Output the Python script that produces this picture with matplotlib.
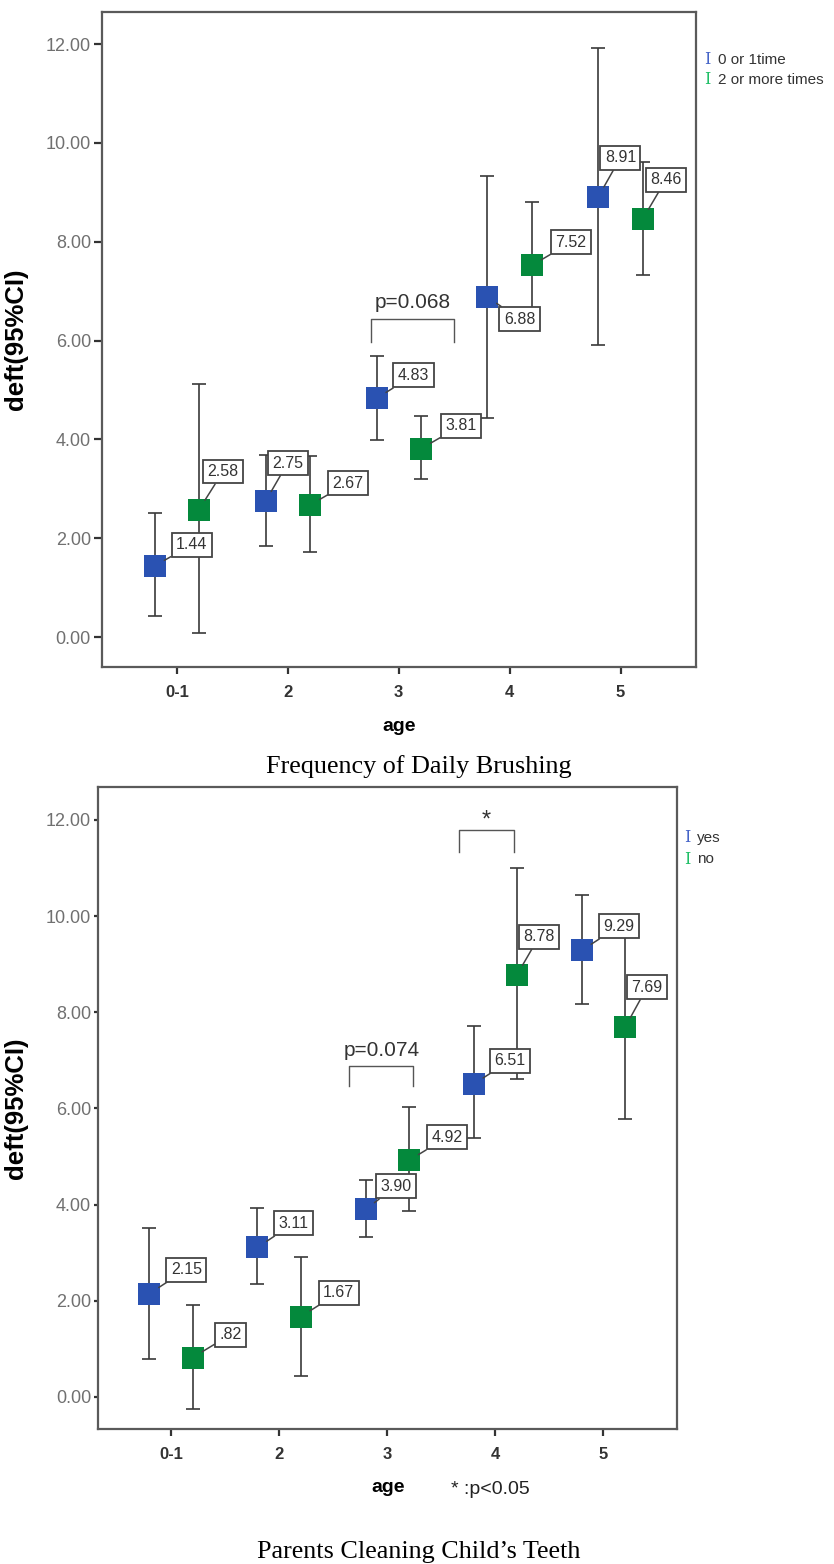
import numpy as np
import matplotlib.pyplot as plt

ages = ['0-1', '2', '3', '4', '5']

# Frequency of Daily Brushing: 0 or 1 time / 2 or more times
brush_a_mean = [1.44, 2.75, 4.83, 6.88, 8.91]
brush_a_lo = [0.42, 1.85, 3.99, 4.43, 5.91]
brush_a_hi = [2.51, 3.68, 5.69, 9.33, 11.91]
brush_b_mean = [2.58, 2.67, 3.81, 7.52, 8.46]
brush_b_lo = [0.09, 1.72, 3.19, 6.25, 7.32]
brush_b_hi = [5.12, 3.66, 4.47, 8.80, 9.61]

# Parents Cleaning Child's Teeth: yes / no
clean_a_mean = [2.15, 3.11, 3.90, 6.51, 9.29]
clean_a_lo = [0.80, 2.34, 3.33, 5.38, 8.18]
clean_a_hi = [3.52, 3.92, 4.52, 7.71, 10.44]
clean_b_mean = [0.82, 1.67, 4.92, 8.78, 7.69]
clean_b_lo = [-0.25, 0.44, 3.86, 6.62, 5.78]
clean_b_hi = [1.92, 2.92, 6.04, 11.00, 9.60]

# label box offsets in pixels (layout only)
brush_a_off = [(37, 21), (22, 38), (37, 23), (32, -22), (22, 39)]
brush_b_off = [(24, 38), (38, 22), (40, 23), (39, 23), (23, 39)]
clean_a_off = [(37, 24), (36, 24), (30, 23), (36, 23), (37, 24)]
clean_b_off = [(38, 23), (38, 24), (38, 23), (22, 38), (22, 40)]

BLUE = '#2a52b2'
GREEN = '#04893c'
BAR = '#3a3a3a'
FRAME = '#5a5a5a'
SANS = ['Liberation Sans', 'DejaVu Sans']
NARROW = ['Liberation Sans Narrow', 'Liberation Sans', 'DejaVu Sans']
SERIF = ['Liberation Serif', 'DejaVu Serif']


def fmt(v):
    s = f'{v:.2f}'
    return s[1:] if s.startswith('0') else s


def draw_series(ax, xs, mean, lo, hi, color, offsets):
    mean = np.array(mean)
    err = [mean - np.array(lo), np.array(hi) - mean]
    ax.errorbar(xs, mean, yerr=err, fmt='none', ecolor=BAR, elinewidth=1.2,
                capsize=4.8, capthick=1.2, zorder=2)
    ax.plot(xs, mean, 's', color=color, markersize=15.5, markeredgewidth=0, zorder=3)
    for x, m, (dx, dy) in zip(xs, mean, offsets):
        ax.annotate(fmt(m), xy=(x, m), xytext=(dx, dy), textcoords='offset pixels',
                    ha='center', va='center', fontsize=11.5, color='#333333', family=SANS,
                    bbox=dict(boxstyle='square,pad=0.28', fc='white', ec='#444444', lw=1.3),
                    arrowprops=dict(arrowstyle='-', color='#444444', lw=1.1,
                                    shrinkA=0, shrinkB=8),
                    zorder=6)


def bracket(ax, x0, x1, ytop, ylow, text, ty, fs):
    ax.plot([x0, x0, x1, x1], [ylow, ytop, ytop, ylow], color='#555555', lw=1.0, zorder=1)
    ax.text((x0 + x1) / 2, ty, text, ha='center', va='center', fontsize=fs,
            color='#333333', family=SANS)


def style_axes(ax, ylim, ytick_len):
    ax.set_xlim(-0.675, 4.68)
    ax.set_ylim(*ylim)
    ax.set_xticks(range(len(ages)))
    ax.set_xticklabels(ages, fontweight='bold', family=NARROW, fontsize=12, color='#333333')
    ax.set_yticks(np.arange(0, 12.1, 2))
    ax.set_yticklabels([f'{v:.2f}' for v in np.arange(0, 12.1, 2)], family=SANS,
                       fontsize=13, color='#707070')
    ax.tick_params(axis='y', length=ytick_len, width=1.6, color='#333333', pad=2)
    ax.tick_params(axis='x', length=5, width=1.6, color='#333333', pad=8)
    for sp in ax.spines.values():
        sp.set_linewidth(1.6)
        sp.set_color(FRAME)
    ax.set_ylabel('deft(95%CI)', fontsize=18.5, fontweight='bold', family=SANS)


fig = plt.figure(figsize=(8.34, 15.64), dpi=100)
W, H = 834.0, 1564.0

ax1 = fig.add_axes([102 / W, 1 - 667 / H, 594 / W, 655 / H])
xs = np.arange(len(ages))
draw_series(ax1, xs - 0.2, brush_a_mean, brush_a_lo, brush_a_hi, BLUE, brush_a_off)
draw_series(ax1, xs + 0.2, brush_b_mean, brush_b_lo, brush_b_hi, GREEN, brush_b_off)
bracket(ax1, 1.75, 2.5, 6.44, 5.97, 'p=0.068', 6.76, 15)
style_axes(ax1, (-0.607, 12.648), 6)
ax1.yaxis.set_label_coords(-0.125, 0.5)

ax2 = fig.add_axes([98 / W, 1 - 1429 / H, 579 / W, 642 / H])
draw_series(ax2, xs - 0.2, clean_a_mean, clean_a_lo, clean_a_hi, BLUE, clean_a_off)
draw_series(ax2, xs + 0.2, clean_b_mean, clean_b_lo, clean_b_hi, GREEN, clean_b_off)
bracket(ax2, 1.65, 2.24, 6.88, 6.46, 'p=0.074', 7.2, 15)
bracket(ax2, 2.66, 3.17, 11.79, 11.33, '*', 11.98, 17)
style_axes(ax2, (-0.666, 12.686), 3)
ax2.yaxis.set_label_coords(-0.121, 0.5)

# legends
for (gx, tx, y, txt, c) in [(707, 718, 60, '0 or 1time', '#4564c8'),
                            (707, 718, 80, '2 or more times', '#1fbf66'),
                            (687, 697, 838, 'yes', '#4564c8'),
                            (687, 697, 859, 'no', '#1fbf66')]:
    fig.text(gx / W, 1 - y / H, 'I', color=c, fontsize=11.5, family='DejaVu Serif',
             ha='center', va='center')
    fig.text(tx / W, 1 - y / H, txt, color='#333333', fontsize=11, family=SANS,
             ha='left', va='center')

fig.text(399 / W, 1 - 727 / H, 'age', fontsize=14, fontweight='bold', family=NARROW,
         ha='center', va='center')
fig.text(388 / W, 1 - 1487 / H, 'age', fontsize=14, fontweight='bold', family=NARROW,
         ha='center', va='center')
fig.text(451 / W, 1 - 1489 / H, '* :p<0.05', fontsize=14, family=NARROW,
         ha='left', va='center', color='#222222')

fig.text(0.502, 1 - 767 / H, 'Frequency of Daily Brushing', fontsize=18.8,
         family=SERIF, ha='center', va='center')
fig.text(0.502, 1 - 1552 / H, 'Parents Cleaning Child\u2019s Teeth', fontsize=18.8,
         family=SERIF, ha='center', va='center')

fig.savefig('out.png', dpi=100)
